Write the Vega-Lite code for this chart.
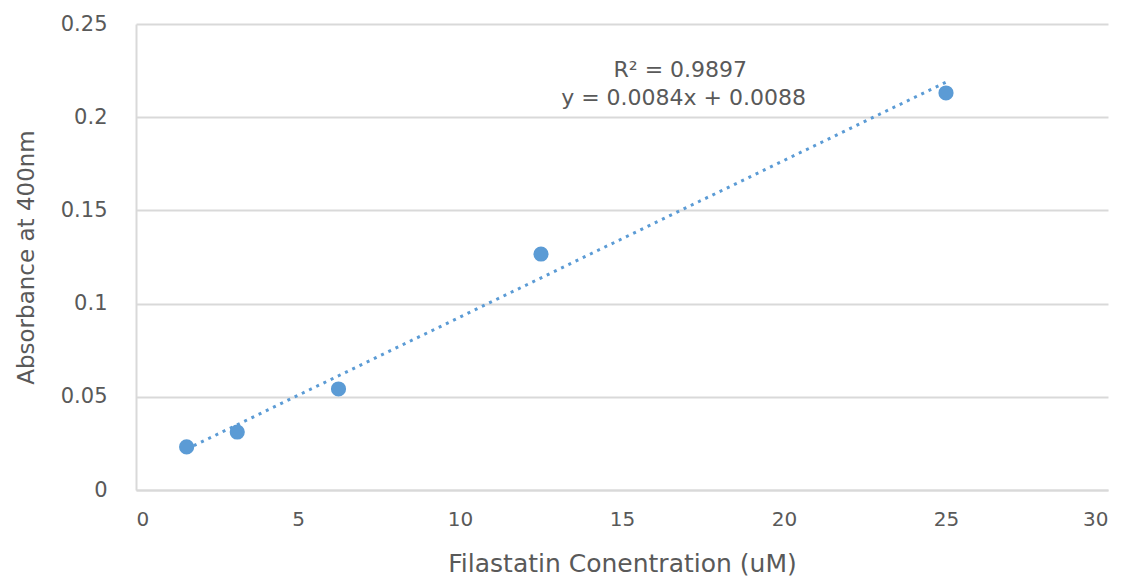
{
  "$schema": "https://vega.github.io/schema/vega-lite/v6.json",
  "autosize": {"type": "none"},
  "padding": {"left": 136, "top": 24, "right": 21, "bottom": 89},
  "width": 972,
  "height": 466,
  "background": "white",
  "config": {
    "view": {"stroke": null},
    "font": "DejaVu Sans"
  },
  "datasets": {
    "points": [
      {"conc": 1.5625, "abs": 0.0231},
      {"conc": 3.125, "abs": 0.0311},
      {"conc": 6.25, "abs": 0.0542},
      {"conc": 12.5, "abs": 0.1266},
      {"conc": 25, "abs": 0.213}
    ],
    "trend": [
      {"conc": 1.5625, "abs": 0.0219},
      {"conc": 25, "abs": 0.2188}
    ],
    "labels": [
      {"conc": 16.8, "abs": 0.2253, "text": "R² = 0.9897"},
      {"conc": 16.9, "abs": 0.2103, "text": "y = 0.0084x + 0.0088"}
    ]
  },
  "layer": [
    {
      "data": {"name": "trend"},
      "mark": {"type": "line", "color": "#5b9bd5", "strokeWidth": 3, "strokeDash": [3, 5]},
      "encoding": {
        "x": {
          "field": "conc", "type": "quantitative",
          "scale": {"domain": [0, 30], "nice": false},
          "axis": {
            "title": "Filastatin Conentration (uM)",
            "values": [0, 5, 10, 15, 20, 25, 30],
            "grid": false, "ticks": false,
            "domainColor": "#d9d9d9", "domainWidth": 2,
            "labelFontSize": 20, "labelColor": "#595959", "labelPadding": 19,
            "titleFontSize": 25, "titleColor": "#595959", "titleFontWeight": "normal", "titlePadding": 22
          }
        },
        "y": {
          "field": "abs", "type": "quantitative",
          "scale": {"domain": [0, 0.25], "nice": false},
          "axis": {
            "title": "Absorbance at 400nm",
            "values": [0, 0.05, 0.1, 0.15, 0.2, 0.25],
            "labelExpr": "datum.value === 0 ? '0' : format(datum.value, '.2~f')",
            "grid": true, "gridColor": "#d9d9d9", "gridWidth": 2,
            "ticks": false,
            "domainColor": "#d9d9d9", "domainWidth": 2,
            "labelFontSize": 21, "labelColor": "#595959", "labelPadding": 29,
            "titleFontSize": 23, "titleColor": "#595959", "titleFontWeight": "normal", "titlePadding": 22
          }
        }
      }
    },
    {
      "data": {"name": "points"},
      "mark": {"type": "point", "filled": true, "shape": "circle", "size": 230, "color": "#5b9bd5", "opacity": 1},
      "encoding": {
        "x": {"field": "conc", "type": "quantitative"},
        "y": {"field": "abs", "type": "quantitative"}
      }
    },
    {
      "data": {"name": "labels"},
      "mark": {"type": "text", "fontSize": 22, "color": "#595959", "align": "center", "baseline": "middle"},
      "encoding": {
        "x": {"field": "conc", "type": "quantitative"},
        "y": {"field": "abs", "type": "quantitative"},
        "text": {"field": "text"}
      }
    }
  ]
}
